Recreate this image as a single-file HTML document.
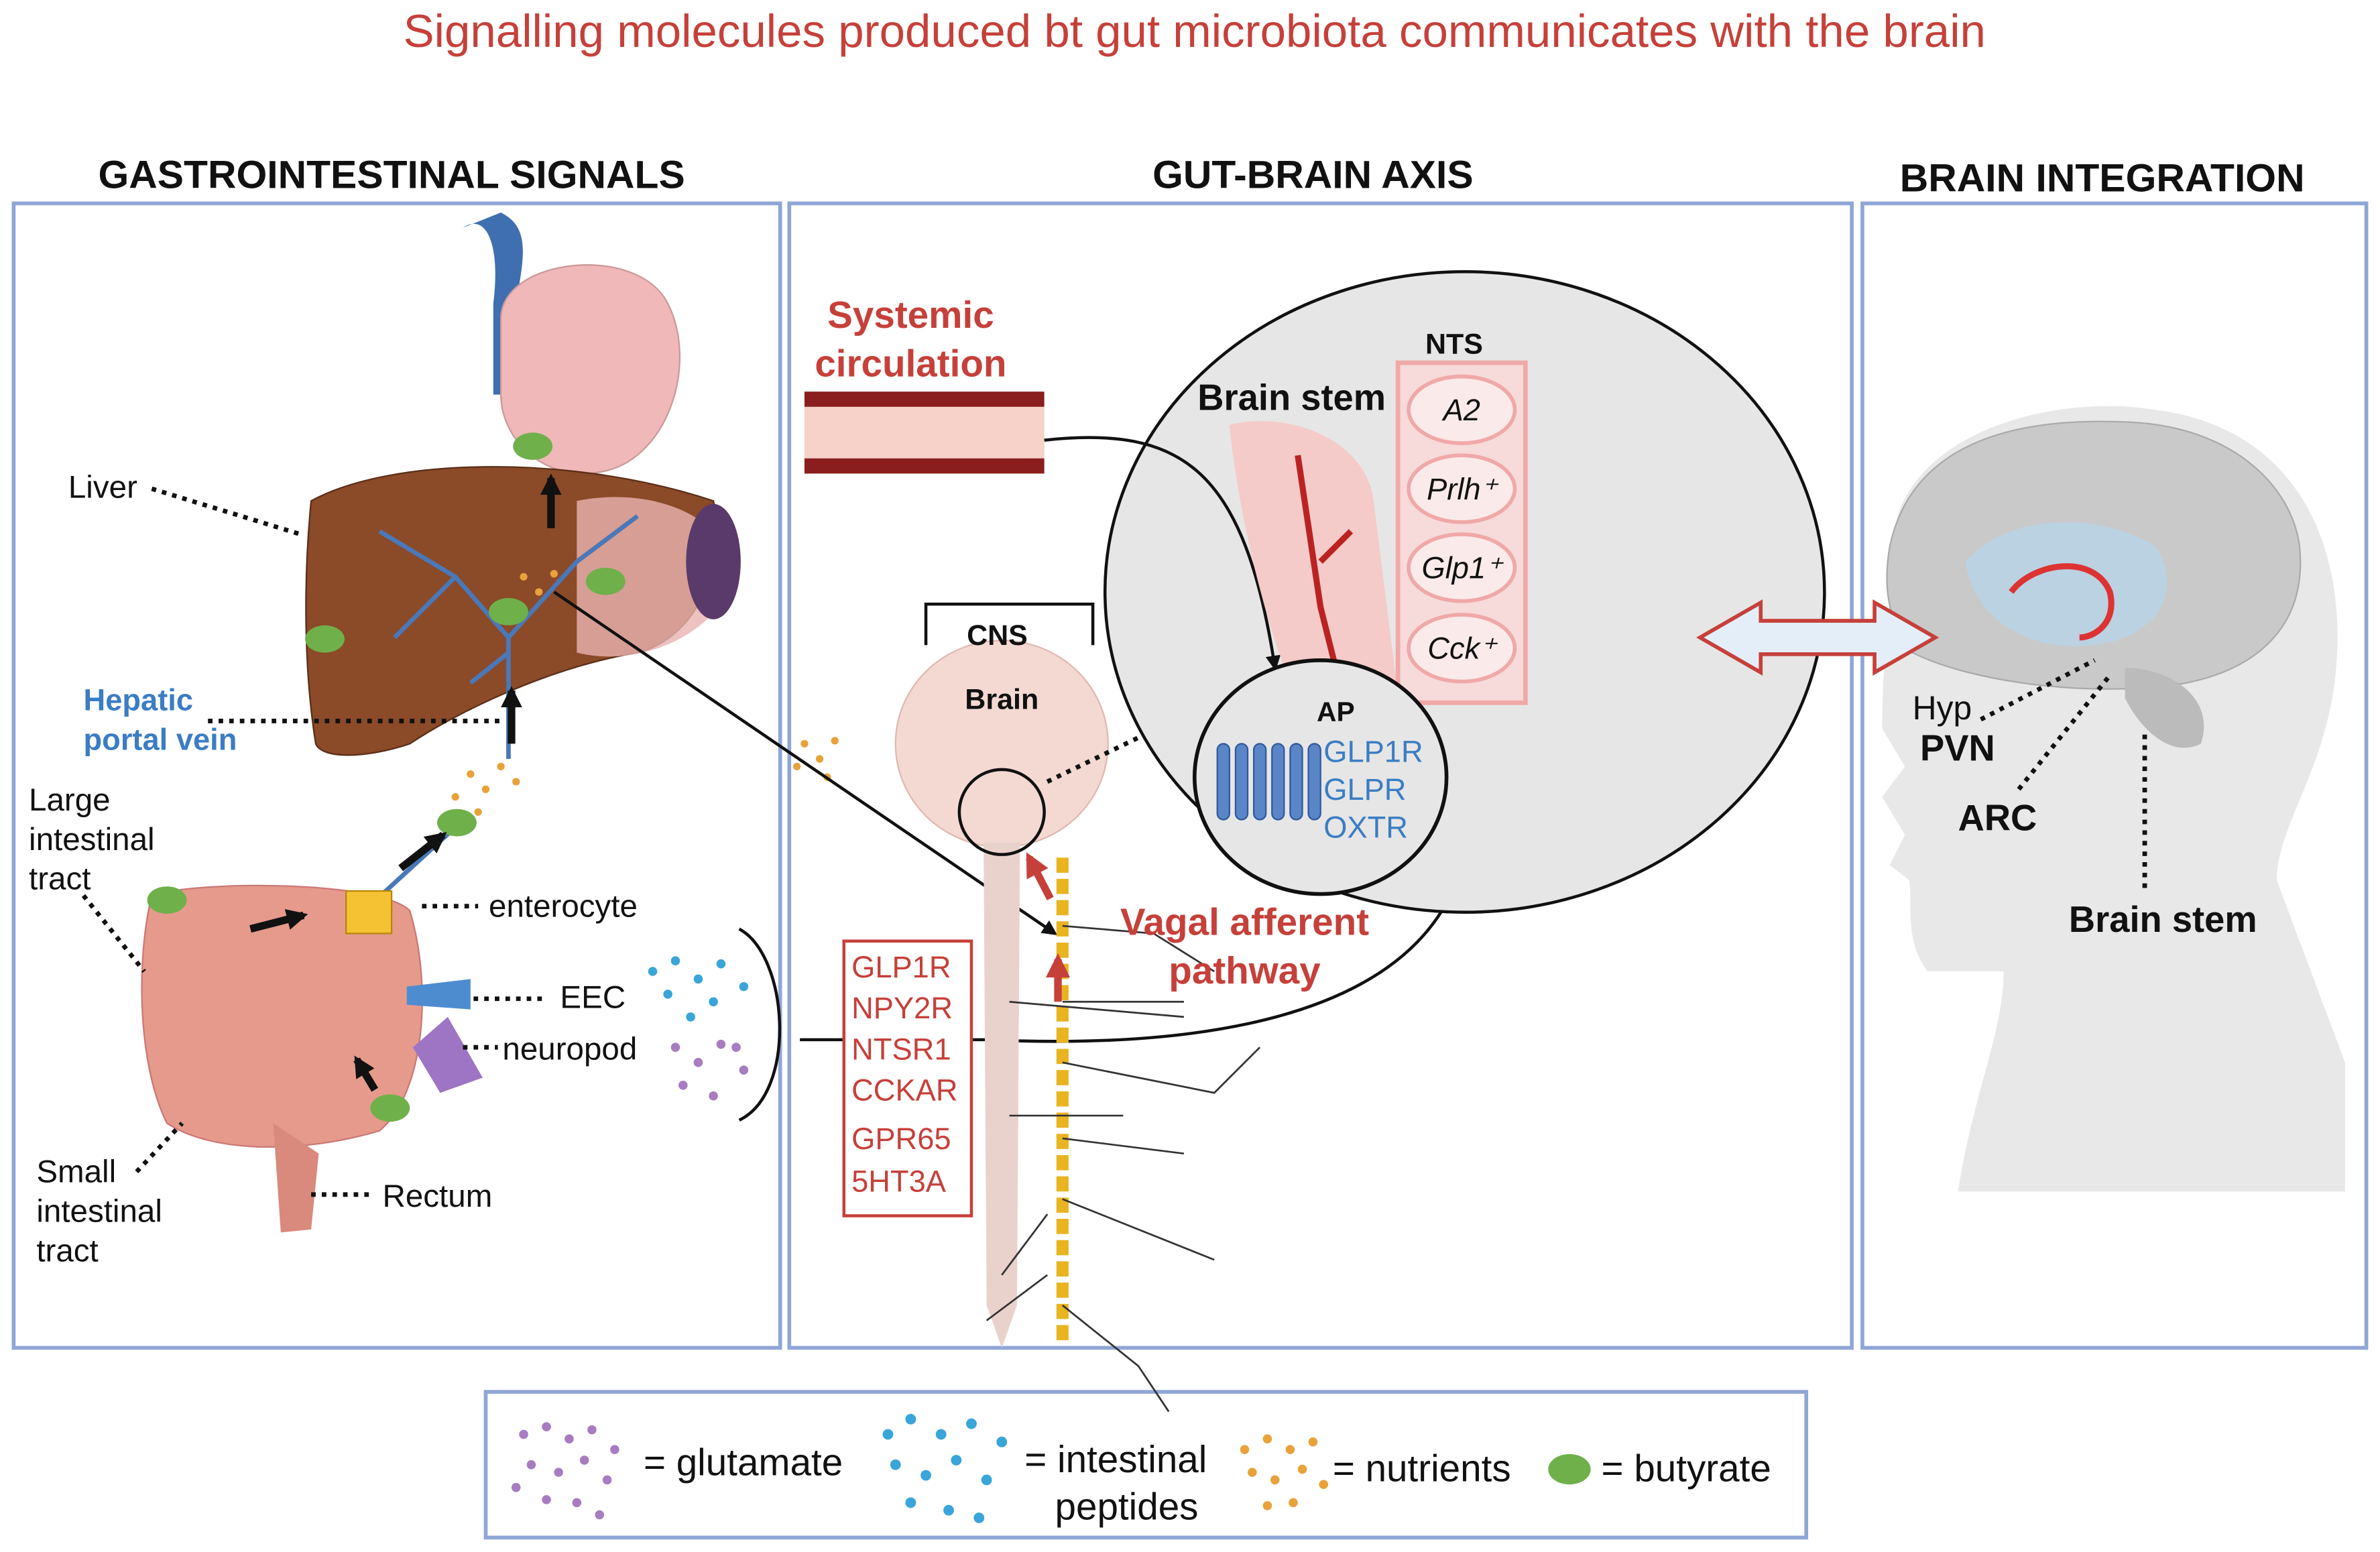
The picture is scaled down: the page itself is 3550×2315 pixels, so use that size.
<!DOCTYPE html>
<html><head><meta charset="utf-8"><style>
html,body{margin:0;padding:0;background:#fff}
svg{display:block}
text{font-family:"Liberation Sans",sans-serif}
</style></head><body>
<svg width="3550" height="2315" viewBox="0 0 1568 1022.5" xmlns="http://www.w3.org/2000/svg">
<defs>
<marker id="ah" markerUnits="userSpaceOnUse" markerWidth="14" markerHeight="14" refX="11" refY="7" orient="auto"><path d="M0,0 L14,7 L0,14 z" fill="#111"/></marker>
<marker id="as" markerUnits="userSpaceOnUse" markerWidth="10" markerHeight="10" refX="8" refY="5" orient="auto"><path d="M0,0 L10,5 L0,10 z" fill="#111"/></marker>
<marker id="ar" markerUnits="userSpaceOnUse" markerWidth="16" markerHeight="16" refX="12" refY="8" orient="auto"><path d="M0,0 L16,8 L0,16 z" fill="#c6403a"/></marker>
</defs>
<text x="787" y="31" text-anchor="middle" font-size="30.5" fill="#c6403a">Signalling molecules produced bt gut microbiota communicates with the brain</text>
<g font-weight="bold" font-size="26" fill="#111" text-anchor="middle">
<text x="258" y="124">GASTROINTESTINAL SIGNALS</text>
<text x="865" y="124">GUT-BRAIN AXIS</text>
<text x="1385" y="126">BRAIN INTEGRATION</text>
</g>
<g fill="none" stroke="#8fa6d6" stroke-width="2.5">
<rect x="9" y="134" width="505" height="754"/>
<rect x="520" y="134" width="700" height="754"/>
<rect x="1227" y="134" width="332" height="754"/>
<rect x="320" y="917" width="870" height="96"/>
</g>
<!-- Left panel organs -->
<path d="M305,150 C320,140 330,160 325,200 L325,260 L340,260 L340,200 C345,170 350,150 330,140 Z" fill="#3f6fb0"/>
<path d="M330,210 C330,170 420,160 440,200 C460,240 440,300 400,310 C360,320 330,290 330,260 Z" fill="#f0b8b8" stroke="#c99" />
<path d="M205,330 C260,300 380,300 470,330 C480,370 460,420 420,430 C360,440 300,470 270,490 C240,500 212,500 208,490 C200,440 200,380 205,330 Z" fill="#8b4a28" stroke="#5a2e18"/>
<path d="M380,330 C430,320 480,340 485,380 C470,420 420,440 380,430 Z" fill="#e8b3b0" opacity="0.8"/>
<ellipse cx="470" cy="370" rx="18" ry="38" fill="#5a3a6a"/>
<g stroke="#4a78b8" stroke-width="3" fill="none">
<path d="M335,500 L335,420 L300,380 L250,350"/><path d="M335,420 L380,370 L420,340"/><path d="M300,380 L260,420"/><path d="M335,430 L310,450"/>
<path d="M300,545 L240,600 L180,620 L120,640"/><path d="M240,600 L200,680 L150,700"/>
</g>
<path d="M100,590 C130,580 250,580 270,600 C285,650 280,720 250,745 C200,760 140,760 110,740 C90,700 90,630 100,590 Z" fill="#e59a8c" stroke="#c77"/>
<path d="M180,740 L210,760 L205,810 L185,812 Z" fill="#d98a7c"/>
<g fill="#6fb04a"><ellipse cx="351" cy="294" rx="13" ry="9"/><ellipse cx="399" cy="383" rx="13" ry="9"/><ellipse cx="335" cy="403" rx="13" ry="9"/><ellipse cx="214" cy="421" rx="13" ry="9"/><ellipse cx="301" cy="542" rx="13" ry="9"/><ellipse cx="110" cy="593" rx="13" ry="9"/><ellipse cx="257" cy="730" rx="13" ry="9"/></g>
<g fill="#e8a23a"><circle cx="310" cy="510" r="2.5"/><circle cx="320" cy="520" r="2.5"/><circle cx="330" cy="505" r="2.5"/><circle cx="300" cy="525" r="2.5"/><circle cx="340" cy="515" r="2.5"/><circle cx="315" cy="535" r="2.5"/><circle cx="345" cy="380" r="2.5"/><circle cx="355" cy="390" r="2.5"/><circle cx="365" cy="378" r="2.5"/><circle cx="530" cy="490" r="2.5"/><circle cx="540" cy="500" r="2.5"/><circle cx="550" cy="488" r="2.5"/><circle cx="545" cy="512" r="2.5"/><circle cx="525" cy="505" r="2.5"/></g>
<rect x="228" y="587" width="30" height="28" fill="#f4c232" stroke="#b8860b"/>
<path d="M268,650 L310,645 L310,665 L268,662 Z" fill="#4e8cd0"/>
<path d="M272,690 L295,670 L318,710 L290,720 Z" fill="#9d75c4"/>
<g stroke="#111" stroke-width="5" fill="none" marker-end="url(#ah)">
<path d="M363,348 L363,315"/><path d="M337,490 L337,455"/><path d="M264,572 L292,550"/><path d="M165,612 L200,603"/><path d="M247,718 L235,698"/></g>
<g font-size="21" fill="#111">
<text x="45" y="328">Liver</text>
<text x="19" y="534">Large</text><text x="19" y="560">intestinal</text><text x="19" y="586">tract</text>
<text x="322" y="604">enterocyte</text>
<text x="369" y="664">EEC</text>
<text x="331" y="698">neuropod</text>
<text x="24" y="779">Small</text><text x="24" y="805">intestinal</text><text x="24" y="831">tract</text>
<text x="252" y="795">Rectum</text>
</g>
<text x="55" y="468" font-size="20" font-weight="bold" fill="#3b7dc4">Hepatic</text>
<text x="55" y="494" font-size="20" font-weight="bold" fill="#3b7dc4">portal vein</text>
<g stroke="#111" stroke-width="3" stroke-dasharray="3,4" fill="none">
<path d="M100,322 L198,352"/><path d="M137,475 L330,475"/><path d="M55,590 L95,640"/><path d="M278,597 L315,597"/><path d="M312,658 L360,658"/><path d="M305,690 L328,690"/><path d="M90,772 L120,740"/><path d="M205,787 L245,787"/>
</g>
<g fill="#3aa5d8"><circle cx="430" cy="640" r="3"/><circle cx="445" cy="633" r="3"/><circle cx="460" cy="645" r="3"/><circle cx="475" cy="635" r="3"/><circle cx="490" cy="650" r="3"/><circle cx="440" cy="655" r="3"/><circle cx="470" cy="660" r="3"/><circle cx="455" cy="670" r="3"/></g>
<g fill="#a77cc0"><circle cx="445" cy="690" r="3"/><circle cx="460" cy="700" r="3"/><circle cx="475" cy="688" r="3"/><circle cx="490" cy="705" r="3"/><circle cx="450" cy="715" r="3"/><circle cx="470" cy="722" r="3"/><circle cx="485" cy="690" r="3"/></g>
<path d="M487,612 C520,630 525,720 487,738" fill="none" stroke="#111" stroke-width="2"/>
<path d="M527,685 L650,685 C760,690 900,680 950,600 C975,550 975,500 975,470" fill="none" stroke="#111" stroke-width="2" marker-end="url(#as)"/>
<path d="M365,390 L695,615" fill="none" stroke="#111" stroke-width="2" marker-end="url(#as)"/>
<!-- middle -->
<text x="600" y="216" text-anchor="middle" font-size="25" font-weight="bold" fill="#c6403a">Systemic</text>
<text x="600" y="248" text-anchor="middle" font-size="25" font-weight="bold" fill="#c6403a">circulation</text>
<rect x="530" y="262" width="158" height="48" fill="#f6d2c8"/>
<rect x="530" y="258" width="158" height="10" fill="#8a1e1e"/><rect x="530" y="302" width="158" height="10" fill="#8a1e1e"/>
<ellipse cx="965" cy="390" rx="237" ry="211" fill="#e6e6e6" stroke="#111" stroke-width="2"/>
<path d="M688,290 C780,280 820,310 840,440" fill="none" stroke="#111" stroke-width="2" marker-end="url(#as)"/>
<path d="M810,280 C850,270 900,290 905,330 L920,450 L850,450 C830,400 815,330 810,280 Z" fill="#f5c8c4" opacity="0.9"/>
<path d="M855,300 L870,400 L880,440 M870,370 L890,350" stroke="#b22" stroke-width="4" fill="none"/>
<text x="851" y="270" text-anchor="middle" font-size="24" font-weight="bold" fill="#111">Brain stem</text>
<text x="958" y="233" text-anchor="middle" font-size="19" font-weight="bold" fill="#111">NTS</text>
<rect x="921" y="239" width="84" height="224" fill="#f7dada" stroke="#f0a8a8" stroke-width="3"/>
<g fill="#fbeaea" stroke="#f0a8a8" stroke-width="2.5"><ellipse cx="963" cy="270" rx="35" ry="22"/><ellipse cx="963" cy="322" rx="35" ry="22"/><ellipse cx="963" cy="374" rx="35" ry="22"/><ellipse cx="963" cy="427" rx="35" ry="22"/></g>
<g font-size="20" font-style="italic" fill="#111" text-anchor="middle"><text x="963" y="277">A2</text><text x="963" y="329">Prlh⁺</text><text x="963" y="381">Glp1⁺</text><text x="963" y="434">Cck⁺</text></g>
<ellipse cx="870" cy="512" rx="83" ry="77" fill="#e6e6e6" stroke="#111" stroke-width="2.5"/>
<text x="880" y="475" text-anchor="middle" font-size="18" font-weight="bold" fill="#111">AP</text>
<g fill="#5a86c8" stroke="#2f5a9c"><rect x="802" y="490" width="8" height="50" rx="4"/><rect x="814" y="490" width="8" height="50" rx="4"/><rect x="826" y="490" width="8" height="50" rx="4"/><rect x="838" y="490" width="8" height="50" rx="4"/><rect x="850" y="490" width="8" height="50" rx="4"/><rect x="862" y="490" width="8" height="50" rx="4"/></g>
<g font-size="20" fill="#3b7dc4"><text x="872" y="502">GLP1R</text><text x="872" y="527">GLPR</text><text x="872" y="552">OXTR</text></g>
<path d="M610,425 L610,398 L720,398 L720,425" fill="none" stroke="#111" stroke-width="2"/>
<ellipse cx="660" cy="490" rx="70" ry="68" fill="#f4d9d3" stroke="#e0b8b0"/>
<text x="657" y="425" text-anchor="middle" font-size="19" font-weight="bold" fill="#111">CNS</text>
<text x="660" y="467" text-anchor="middle" font-size="19" font-weight="bold" fill="#111">Brain</text>
<path d="M648,555 L672,555 L670,860 L660,888 L650,860 Z" fill="#ead2cc"/>
<circle cx="660" cy="535" r="28" fill="none" stroke="#111" stroke-width="2"/>
<path d="M690,515 L752,485" stroke="#111" stroke-width="3" stroke-dasharray="3,4"/>
<path d="M700,565 L700,885" stroke="#e8b420" stroke-width="8" stroke-dasharray="10,4"/>
<g stroke="#333" stroke-width="1.2" fill="none"><path d="M700,610 L760,615 L800,640"/><path d="M700,660 L780,660"/><path d="M700,700 L800,720 L830,690"/><path d="M700,750 L780,760"/><path d="M700,790 L800,830"/><path d="M690,800 L660,840"/><path d="M690,840 L650,870"/><path d="M700,860 L750,900 L770,930"/><path d="M665,660 L780,670"/><path d="M665,735 L740,735"/></g>
<path d="M697,660 L697,632" stroke="#c6403a" stroke-width="5" marker-end="url(#ar)"/>
<path d="M692,592 L678,565" stroke="#c6403a" stroke-width="5" marker-end="url(#ar)"/>
<text x="820" y="616" text-anchor="middle" font-size="25" font-weight="bold" fill="#c6403a">Vagal afferent</text>
<text x="820" y="648" text-anchor="middle" font-size="25" font-weight="bold" fill="#c6403a">pathway</text>
<rect x="556" y="620" width="84" height="181" fill="#fff" stroke="#c6403a" stroke-width="2"/>
<g font-size="20" fill="#c6403a"><text x="561" y="644">GLP1R</text><text x="561" y="671">NPY2R</text><text x="561" y="698">NTSR1</text><text x="561" y="725">CCKAR</text><text x="561" y="757">GPR65</text><text x="561" y="785">5HT3A</text></g>
<!-- head -->
<path d="M1250,340 C1270,280 1360,260 1420,270 C1500,280 1540,340 1540,420 C1540,500 1500,540 1500,580 L1545,700 L1545,785 L1290,785 C1300,720 1320,680 1320,640 L1270,640 C1255,620 1260,600 1258,580 L1245,570 L1255,550 L1240,525 L1255,505 L1240,480 C1240,440 1245,390 1250,340 Z" fill="#e8e8e8"/>
<path d="M1245,360 C1260,290 1330,275 1400,278 C1470,280 1510,320 1515,360 C1520,410 1490,440 1440,450 C1380,460 1300,450 1260,430 C1245,410 1240,390 1245,360 Z" fill="#c9c9c9" stroke="#aaa"/>
<path d="M1295,370 C1320,340 1380,335 1420,360 C1440,390 1420,420 1380,425 C1340,430 1300,410 1295,370 Z" fill="#b8d4e8" opacity="0.8"/>
<path d="M1325,390 C1340,370 1380,365 1390,390 C1395,410 1380,420 1370,420" fill="none" stroke="#d33" stroke-width="4"/>
<path d="M1400,440 C1430,440 1460,460 1450,490 C1430,500 1410,480 1400,460 Z" fill="#bbb"/>
<!-- double arrow -->
<path d="M1120,420 L1160,397 L1160,409 L1235,409 L1235,397 L1275,420 L1235,443 L1235,431 L1160,431 L1160,443 Z" fill="#e4eef8" stroke="#c6403a" stroke-width="2.5"/>
<g font-size="22" fill="#111"><text x="1260" y="474">Hyp</text></g>
<g font-size="24" font-weight="bold" fill="#111"><text x="1265" y="501">PVN</text><text x="1290" y="547">ARC</text><text x="1363" y="614">Brain stem</text></g>
<g stroke="#111" stroke-width="3" stroke-dasharray="3,4" fill="none"><path d="M1305,474 L1380,435"/><path d="M1330,520 L1390,445"/><path d="M1413,585 L1413,480"/></g>
<!-- legend -->
<g fill="#a77cc0"><circle cx="345" cy="945" r="3"/><circle cx="360" cy="940" r="3"/><circle cx="375" cy="948" r="3"/><circle cx="390" cy="942" r="3"/><circle cx="405" cy="955" r="3"/><circle cx="350" cy="965" r="3"/><circle cx="368" cy="970" r="3"/><circle cx="385" cy="962" r="3"/><circle cx="400" cy="975" r="3"/><circle cx="360" cy="988" r="3"/><circle cx="380" cy="990" r="3"/><circle cx="395" cy="998" r="3"/><circle cx="340" cy="980" r="3"/></g>
<text x="424" y="972" font-size="25" fill="#111">= glutamate</text>
<g fill="#3aa5d8"><circle cx="585" cy="945" r="3.5"/><circle cx="600" cy="935" r="3.5"/><circle cx="620" cy="945" r="3.5"/><circle cx="640" cy="938" r="3.5"/><circle cx="660" cy="950" r="3.5"/><circle cx="590" cy="965" r="3.5"/><circle cx="610" cy="972" r="3.5"/><circle cx="630" cy="962" r="3.5"/><circle cx="650" cy="975" r="3.5"/><circle cx="600" cy="990" r="3.5"/><circle cx="625" cy="995" r="3.5"/><circle cx="645" cy="1000" r="3.5"/></g>
<text x="675" y="970" font-size="25" fill="#111">= intestinal</text>
<text x="695" y="1001" font-size="25" fill="#111">peptides</text>
<g fill="#e8a23a"><circle cx="820" cy="955" r="3"/><circle cx="835" cy="948" r="3"/><circle cx="850" cy="955" r="3"/><circle cx="865" cy="950" r="3"/><circle cx="825" cy="970" r="3"/><circle cx="840" cy="975" r="3"/><circle cx="858" cy="968" r="3"/><circle cx="872" cy="978" r="3"/><circle cx="835" cy="992" r="3"/><circle cx="852" cy="990" r="3"/></g>
<text x="878" y="976" font-size="25" fill="#111">= nutrients</text>
<ellipse cx="1034" cy="968" rx="14" ry="10" fill="#6fb04a"/>
<text x="1055" y="976" font-size="25" fill="#111">= butyrate</text>
</svg>
</body></html>
